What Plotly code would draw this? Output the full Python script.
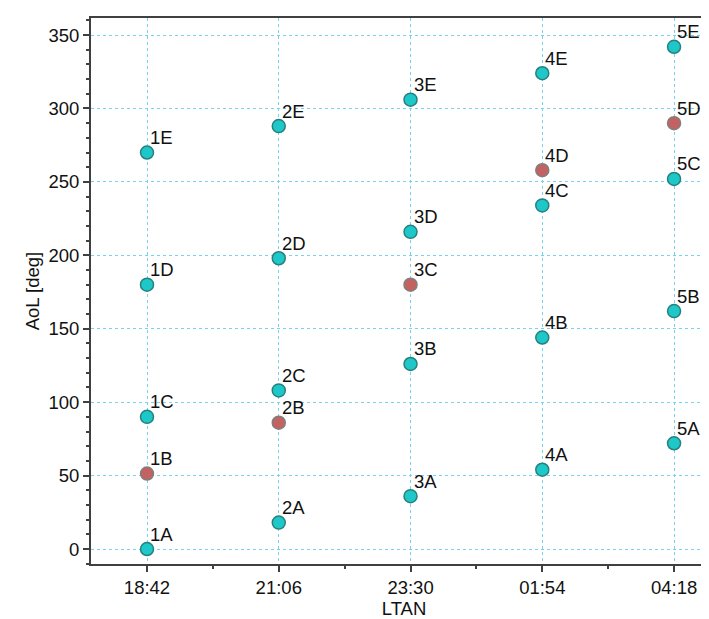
import plotly.graph_objects as go

ltan = ["18:42", "21:06", "23:30", "01:54", "04:18"]
slots = ["A", "B", "C", "D", "E"]
# AoL [deg] per plane (rows) for slots A..E
aol = [
    [0, 51.4, 90, 180, 270],
    [18, 86, 108, 198, 288],
    [36, 126, 180, 216, 306],
    [54, 144, 234, 258, 324],
    [72, 162, 252, 290, 342],
]
# highlighted (red) satellites
highlighted = ["1B", "2B", "3C", "4D", "5D"]

teal_fill = "#1ec8c8"
teal_line = "#27807e"
red_fill = "#c46262"
red_line = "#7f7f7f"

FONT = "Arial, Liberation Sans, sans-serif"
FS = 18.5

xs_t, ys_t, xs_r, ys_r = [], [], [], []
annotations = []
for i, plane in enumerate(aol):
    for j, v in enumerate(plane):
        name = f"{i+1}{slots[j]}"
        if name in highlighted:
            xs_r.append(i); ys_r.append(v)
        else:
            xs_t.append(i); ys_t.append(v)
        annotations.append(dict(
            x=i, y=v, text=name, showarrow=False,
            xanchor="left", yanchor="middle", xshift=1, yshift=15,
            font=dict(family=FONT, size=FS, color="#111111"),
        ))

fig = go.Figure()
fig.add_trace(go.Scatter(
    x=xs_t, y=ys_t, mode="markers",
    marker=dict(size=13, color=teal_fill, line=dict(color=teal_line, width=1.5)),
    showlegend=False, hoverinfo="skip",
))
fig.add_trace(go.Scatter(
    x=xs_r, y=ys_r, mode="markers",
    marker=dict(size=13, color=red_fill, line=dict(color=red_line, width=1.5)),
    showlegend=False, hoverinfo="skip",
))

grid_color = "rgb(120,210,238)"
axis_color = "#404040"

fig.update_layout(
    width=709, height=619,
    margin=dict(l=83, r=0, t=10, b=63),
    paper_bgcolor="white", plot_bgcolor="white",
    font=dict(family=FONT, size=FS, color="#111111"),
    annotations=annotations,
    xaxis=dict(
        range=[-0.425, 4.326],
        tickmode="array", tickvals=list(range(len(ltan))), ticktext=ltan,
        showgrid=True, gridcolor=grid_color, griddash="dot", gridwidth=1,
        zeroline=False,
        showline=True, linecolor=axis_color, linewidth=2, mirror=True,
        ticks="outside", ticklen=6, tickcolor=axis_color, tickwidth=1.5,
        minor=dict(tickmode="array", tickvals=[0.5, 1.5, 2.5, 3.5],
                   ticks="outside", ticklen=3, tickcolor=axis_color, showgrid=False),
        title=dict(text="LTAN", font=dict(size=FS), standoff=4),
        tickfont=dict(size=FS),
    ),
    yaxis=dict(
        range=[-10.2, 361.6],
        tickmode="linear", tick0=0, dtick=50,
        showgrid=True, gridcolor=grid_color, griddash="dot", gridwidth=1,
        zeroline=False,
        showline=True, linecolor=axis_color, linewidth=2, mirror=False,
        ticks="outside", ticklen=6, tickcolor=axis_color, tickwidth=1.5,
        minor=dict(dtick=10, tick0=0, ticks="outside", ticklen=3,
                   tickcolor=axis_color, showgrid=False),
        title=dict(text="AoL [deg]", font=dict(size=FS), standoff=4),
        tickfont=dict(size=FS),
    ),
)

fig.write_html("out.html")
